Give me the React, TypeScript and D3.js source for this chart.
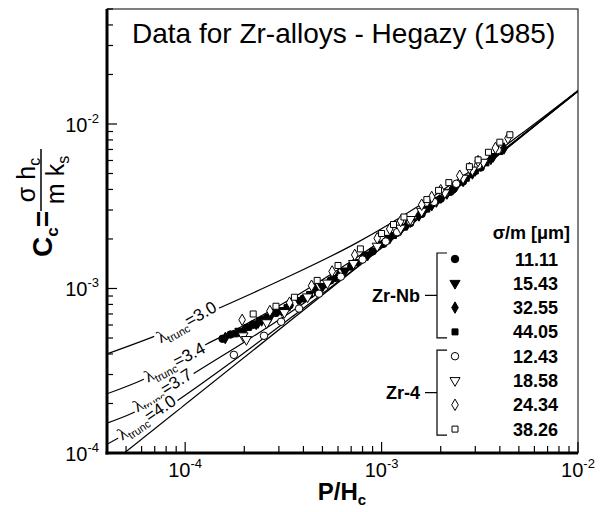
import React, { useEffect, useRef } from 'react';
import * as d3 from 'd3';

// axis ranges (P/Hc on x, Cc on y)
const xDomain = [4e-5, 1e-2];
const yDomain = [1e-4, 5e-2];
const xMajor = [1e-4, 1e-3, 1e-2];
const yMajor = [1e-4, 1e-3, 1e-2];

// model curves: [P/Hc, Cc]
const lambda30 = [[4e-5, 4.0e-4], [7e-5, 5.13e-4], [1.5e-4, 7.63e-4], [3e-4, 1.11e-3], [7.5e-4, 1.9e-3], [1.57e-3, 3.22e-3], [2.82e-3, 5.16e-3], [5e-3, 8.5e-3], [1e-2, 1.6e-2]];
const lambda34 = [[4e-5, 2.29e-4], [6.2e-5, 2.82e-4], [1.29e-4, 4.6e-4], [1.9e-4, 5.8e-4], [3.04e-4, 7.9e-4], [6.9e-4, 1.45e-3], [1.57e-3, 2.87e-3], [4e-3, 6.7e-3], [1e-2, 1.59e-2]];
const lambda37 = [[4e-5, 1.52e-4], [5.4e-5, 1.75e-4], [1.1e-4, 3.03e-4], [2.14e-4, 4.97e-4], [3.85e-4, 7.86e-4], [1.24e-3, 2.23e-3], [1e-2, 1.585e-2]];
const lambda40 = [[4e-5, 1.13e-4], [4.5e-5, 1.22e-4], [9.07e-5, 2.07e-4], [1.69e-4, 3.51e-4], [3.85e-4, 7.33e-4], [1e-2, 1.58e-2]];
const gaussian = [[4.9e-5, 1.0e-4], [1e-2, 1.58e-2]];

const curveNames = ['3.0', '3.4', '3.7', '4.0'];
// label anchor (P/Hc, Cc) and slope angle for each lambda label
const labelAnchors = [[1.02e-4, 6.2e-4, -30], [8.87e-5, 3.53e-4, -28], [7.7e-5, 2.39e-4, -32], [6.39e-5, 1.63e-4, -34]];

// measured data: [P/Hc, Cc]
const zrNb1111 = [[1.55e-4, 4.95e-4], [1.7e-4, 5.25e-4], [2.2e-4, 6.0e-4], [2.6e-4, 6.6e-4], [2.9e-4, 7.1e-4], [3.4e-4, 7.9e-4], [4e-4, 8.7e-4], [5.5e-4, 1.12e-3], [7e-4, 1.36e-3], [9e-4, 1.68e-3], [1.2e-3, 2.18e-3], [1.4e-3, 2.5e-3], [1.6e-3, 2.84e-3], [2e-3, 3.51e-3], [2.3e-3, 3.98e-3], [2.6e-3, 4.47e-3], [3.2e-3, 5.44e-3]];
const zrNb1543 = [[1.9e-4, 5.5e-4], [2.3e-4, 6.1e-4], [2.45e-4, 6.4e-4], [2.7e-4, 6.7e-4], [3.1e-4, 7.35e-4], [3.8e-4, 8.45e-4], [5e-4, 1.03e-3], [6.5e-4, 1.28e-3], [8.5e-4, 1.6e-3], [1.1e-3, 2.02e-3], [1.25e-3, 2.28e-3], [1.4e-3, 2.55e-3], [1.9e-3, 3.38e-3], [2.15e-3, 3.78e-3], [2.4e-3, 4.2e-3], [3e-3, 5.22e-3], [3.7e-3, 6.35e-3]];
const zrNb3255 = [[1.6e-4, 5.0e-4], [2e-4, 5.6e-4], [2.35e-4, 6.2e-4], [2.7e-4, 6.8e-4], [3.4e-4, 7.9e-4], [4.6e-4, 9.8e-4], [6e-4, 1.19e-3], [8e-4, 1.53e-3], [1.05e-3, 1.93e-3], [1.35e-3, 2.45e-3], [1.55e-3, 2.78e-3], [1.8e-3, 3.21e-3], [2.3e-3, 4.0e-3], [2.6e-3, 4.5e-3], [2.9e-3, 5.0e-3], [3.6e-3, 6.13e-3], [4.2e-3, 7.1e-3]];
const zrNb4405 = [[1.8e-4, 5.3e-4], [2.1e-4, 5.8e-4], [2.5e-4, 6.5e-4], [3.3e-4, 7.65e-4], [4.3e-4, 9.2e-4], [5.7e-4, 1.15e-3], [7.5e-4, 1.44e-3], [1e-3, 1.85e-3], [1.15e-3, 2.1e-3], [1.3e-3, 2.36e-3], [1.7e-3, 3.04e-3], [1.95e-3, 3.45e-3], [2.2e-3, 3.84e-3], [2.7e-3, 4.68e-3], [3e-3, 5.18e-3], [3.4e-3, 5.8e-3], [4e-3, 6.8e-3]];
const zr4_1243 = [[1.77e-4, 3.95e-4], [2.52e-4, 5.16e-4], [3.08e-4, 6.28e-4], [3.8e-4, 7.55e-4], [4.8e-4, 9.3e-4], [6.2e-4, 1.18e-3], [8e-4, 1.5e-3], [1.05e-3, 1.93e-3], [1.2e-3, 2.2e-3], [1.4e-3, 2.55e-3], [1.85e-3, 3.36e-3], [2.1e-3, 3.8e-3], [2.4e-3, 4.33e-3], [3.1e-3, 5.6e-3], [3.9e-3, 6.95e-3]];
const zr4_1858 = [[1.97e-4, 5.16e-4], [2.05e-4, 4.9e-4], [2.6e-4, 6.2e-4], [3.2e-4, 7.15e-4], [4.2e-4, 8.9e-4], [5.3e-4, 1.08e-3], [7.2e-4, 1.42e-3], [9.5e-4, 1.81e-3], [1.25e-3, 2.33e-3], [1.4e-3, 2.63e-3], [1.6e-3, 2.95e-3], [2.1e-3, 3.82e-3], [2.6e-3, 4.69e-3], [2.9e-3, 5.25e-3], [3.3e-3, 5.86e-3]];
const zr4_2434 = [[1.95e-4, 6.45e-4], [2.7e-4, 7.3e-4], [3.4e-4, 8.2e-4], [4.4e-4, 1.04e-3], [5.6e-4, 1.27e-3], [7.3e-4, 1.6e-3], [9.5e-4, 2.02e-3], [1.1e-3, 2.3e-3], [1.25e-3, 2.57e-3], [1.6e-3, 3.23e-3], [1.8e-3, 3.6e-3], [2e-3, 3.96e-3], [2.5e-3, 4.85e-3], [2.8e-3, 5.4e-3], [3.1e-3, 5.95e-3], [3.8e-3, 7.15e-3], [4.4e-3, 8.2e-3]];
const zr4_3826 = [[2.22e-4, 7.0e-4], [2.9e-4, 7.8e-4], [3.6e-4, 8.85e-4], [4.7e-4, 1.12e-3], [6e-4, 1.38e-3], [7.8e-4, 1.74e-3], [1e-3, 2.16e-3], [1.15e-3, 2.45e-3], [1.3e-3, 2.72e-3], [1.7e-3, 3.47e-3], [1.95e-3, 3.95e-3], [2.2e-3, 4.4e-3], [2.8e-3, 5.5e-3], [3.1e-3, 6.05e-3], [3.5e-3, 6.73e-3], [4e-3, 7.75e-3], [4.5e-3, 8.6e-3]];

const seriesLabels = ['11.11', '15.43', '32.55', '44.05', '12.43', '18.58', '24.34', '38.26'];
const seriesShapes = ['circle', 'triangle', 'diamond', 'square', 'circle', 'triangle', 'diamond', 'square'];
const seriesFilled = [true, true, true, true, false, false, false, false];
const seriesData = [zrNb1111, zrNb1543, zrNb3255, zrNb4405, zr4_1243, zr4_1858, zr4_2434, zr4_3826];

const SANS = '"Liberation Sans", Arial, Helvetica, sans-serif';
const SERIF = '"Liberation Serif", "Times New Roman", serif';

const symbolFor = (shape: string) => {
  if (shape === 'circle') return d3.symbol().type(d3.symbolCircle).size(44)();
  if (shape === 'triangle') return d3.symbol().type(d3.symbolTriangle).size(44)();
  if (shape === 'diamond') return d3.symbol().type(d3.symbolDiamond).size(38)();
  return d3.symbol().type(d3.symbolSquare).size(36)();
};

export default function App() {
  const svgRef = useRef<SVGSVGElement | null>(null);

  const margin = { top: 9, right: 29, bottom: 60, left: 107 };
  const width = 607;
  const height = 512;

  useEffect(() => {
    document.body.style.margin = '0';
    const svg = d3.select(svgRef.current);
    svg.selectAll('*').remove();

    const x = d3.scaleLog().domain(xDomain).range([margin.left, width - margin.right]);
    const y = d3.scaleLog().domain(yDomain).range([height - margin.bottom + 1, margin.top]);
    const [x0, x1] = x.range();
    const [y0, y1] = y.range();

    svg.append('clipPath').attr('id', 'plot-clip')
      .append('rect').attr('x', x0).attr('y', y1).attr('width', x1 - x0).attr('height', y0 - y1);

    // title
    svg.append('text')
      .attr('x', 132).attr('y', 43)
      .style('font-family', SANS).style('font-size', '28px')
      .text('Data for Zr-alloys - Hegazy (1985)');

    // ticks (inward, left and bottom only)
    const isMajor = (v: number) => Math.abs(Math.log10(v) - Math.round(Math.log10(v))) < 1e-6;
    svg.append('g').selectAll('line').data(x.ticks()).join('line')
      .attr('x1', (d) => x(d)).attr('x2', (d) => x(d))
      .attr('y1', y0).attr('y2', (d) => y0 - (isMajor(d) ? 11 : 7))
      .attr('stroke', '#000').attr('stroke-width', 1.2);
    svg.append('g').selectAll('line').data(y.ticks()).join('line')
      .attr('y1', (d) => y(d)).attr('y2', (d) => y(d))
      .attr('x1', x0).attr('x2', (d) => x0 + (isMajor(d) ? 10 : 6))
      .attr('stroke', '#000').attr('stroke-width', 1.2);

    // tick labels 10^n
    const xl = svg.append('g').style('font-family', SANS);
    xMajor.forEach((v) => {
      const t = xl.append('text').attr('x', x(v)).attr('y', y0 + 24).attr('text-anchor', 'middle').style('font-size', '20px');
      t.append('tspan').text('10');
      t.append('tspan').attr('dy', -9).style('font-size', '13px').text(`-${-Math.round(Math.log10(v))}`);
    });
    yMajor.forEach((v) => {
      const t = xl.append('text').attr('x', x0 - 8).attr('y', y(v) + 8).attr('text-anchor', 'end').style('font-size', '20px');
      t.append('tspan').text('10');
      t.append('tspan').attr('dy', -9).style('font-size', '13px').text(`-${-Math.round(Math.log10(v))}`);
    });

    // model curves
    const line = d3.line<number[]>().x((d) => x(d[0])).y((d) => y(d[1])).curve(d3.curveMonotoneX);
    const curves = svg.append('g').attr('clip-path', 'url(#plot-clip)');
    [lambda30, lambda34, lambda37, lambda40, gaussian].forEach((pts) => {
      curves.append('path').attr('d', line(pts)).attr('fill', 'none').attr('stroke', '#000').attr('stroke-width', 1.2);
    });

    // data markers
    const marks = svg.append('g').attr('clip-path', 'url(#plot-clip)');
    seriesData.forEach((pts, i) => {
      marks.append('g').selectAll('path').data(pts).join('path')
        .attr('d', symbolFor(seriesShapes[i]))
        .attr('transform', (d) => `translate(${x(d[0])},${y(d[1])})${seriesShapes[i] === 'triangle' ? ' rotate(180)' : ''}`)
        .attr('fill', seriesFilled[i] ? '#000' : '#fff')
        .attr('stroke', '#000').attr('stroke-width', 1);
    });

    // lambda labels with white gap
    curveNames.forEach((name, i) => {
      const [lx, ly, ang] = labelAnchors[i];
      const g = svg.append('g').attr('transform', `translate(${x(lx)},${y(ly)}) rotate(${ang})`);
      const bg = g.append('rect').attr('fill', '#fff');
      const t = g.append('text').attr('text-anchor', 'middle').attr('y', 5).style('font-size', '17px');
      t.append('tspan').style('font-family', SERIF).text('\u03bb');
      t.append('tspan').attr('dy', 4).style('font-family', SANS).style('font-size', '11px').text('trunc');
      t.append('tspan').attr('dy', -4).style('font-family', SANS).text(`=${name}`);
      const b = (t.node() as SVGTextElement).getBBox();
      bg.attr('x', b.x - 2).attr('y', b.y + 2).attr('width', b.width + 4).attr('height', b.height - 3);
    });

    // frame
    svg.append('rect').attr('x', x0).attr('y', y1).attr('width', x1 - x0).attr('height', y0 - y1)
      .attr('fill', 'none').attr('stroke', '#000').attr('stroke-width', 1);
    svg.append('line').attr('x1', x0).attr('x2', x0).attr('y1', y1).attr('y2', y0 + 1.5).attr('stroke', '#000').attr('stroke-width', 3);
    svg.append('line').attr('x1', x0 - 1.5).attr('x2', x1).attr('y1', y0).attr('y2', y0).attr('stroke', '#000').attr('stroke-width', 3);

    // legend
    const lg = svg.append('g').style('font-family', SANS).style('font-weight', 'bold');
    lg.append('text').attr('x', 570).attr('y', 239).attr('text-anchor', 'end').style('font-size', '18px')
      .text('\u03c3/m [\u03bcm]');
    const rowY = (i: number) => 259 + i * 24.3;
    seriesLabels.forEach((lab, i) => {
      lg.append('path').attr('d', symbolFor(seriesShapes[i]))
        .attr('transform', `translate(455,${rowY(i)})${seriesShapes[i] === 'triangle' ? ' rotate(180)' : ''}`)
        .attr('fill', seriesFilled[i] ? '#000' : '#fff').attr('stroke', '#000').attr('stroke-width', 1);
      lg.append('text').attr('x', 558).attr('y', rowY(i) + 6.5).attr('text-anchor', 'end').style('font-size', '18px').text(lab);
    });
    [['Zr-Nb', 0, 3], ['Zr-4', 4, 7]].forEach(([name, a, b]) => {
      const ya = rowY(a as number) - 6;
      const yb = rowY(b as number) + 6;
      const ym = (ya + yb) / 2;
      lg.append('path').attr('d', `M447,${ya}H437V${yb}H447 M425,${ym}H437`)
        .attr('fill', 'none').attr('stroke', '#000').attr('stroke-width', 1.2);
      lg.append('text').attr('x', 420).attr('y', ym + 6.5).attr('text-anchor', 'end').style('font-size', '18px').text(name as string);
    });

    // axis titles
    const xt = svg.append('text').attr('x', 342).attr('y', 500).attr('text-anchor', 'middle')
      .style('font-family', SANS).style('font-weight', 'bold').style('font-size', '24px');
    xt.append('tspan').text('P/H');
    xt.append('tspan').attr('dy', 5).style('font-size', '15px').text('c');

    const yt = svg.append('g').attr('transform', 'translate(0,257) rotate(-90)').style('font-family', SANS);
    const cc = yt.append('text').attr('x', 0).attr('y', 52).style('font-weight', 'bold').style('font-size', '28px');
    cc.append('tspan').text('C');
    cc.append('tspan').attr('dy', 6).style('font-size', '17px').text('c');
    cc.append('tspan').attr('dy', -6).text('=');
    yt.append('line').attr('x1', 46).attr('x2', 108).attr('y1', 41).attr('y2', 41).attr('stroke', '#000').attr('stroke-width', 1.5);
    const num = yt.append('text').attr('x', 77).attr('y', 35).attr('text-anchor', 'middle').style('font-size', '25px');
    num.append('tspan').text('\u03c3 h');
    num.append('tspan').attr('dy', 5).style('font-size', '16px').text('c');
    const den = yt.append('text').attr('x', 77).attr('y', 64).attr('text-anchor', 'middle').style('font-size', '25px');
    den.append('tspan').text('m k');
    den.append('tspan').attr('dy', 5).style('font-size', '16px').text('s');
  }, []);

  return <svg ref={svgRef} width={width} height={height} style={{ display: 'block', background: '#fff' }} />;
}
